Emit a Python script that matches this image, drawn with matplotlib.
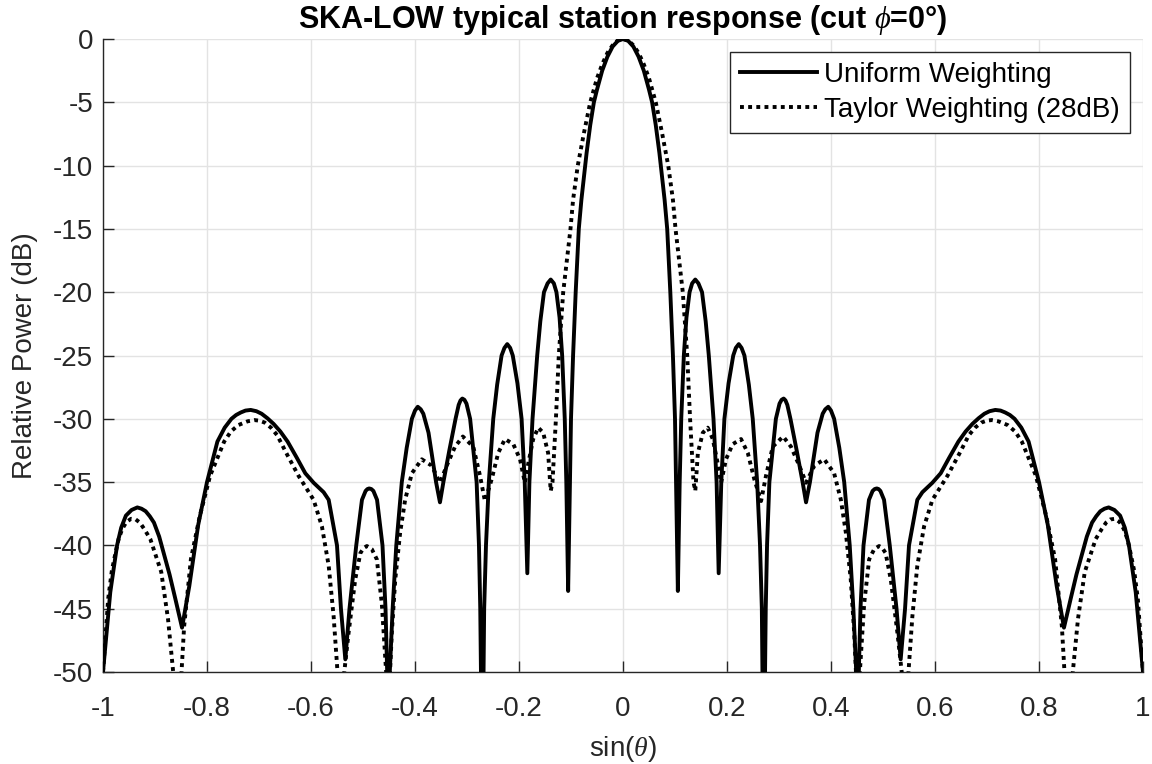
import numpy as np
import matplotlib
matplotlib.use("Agg")
import matplotlib.pyplot as plt

# ---------------- data ----------------
# (sin(theta), relative power dB) pairs; values below -50 dB fall outside the axes
uniform_left = [(-1.000, -50.0), (-0.986, -43.7), (-0.973, -40.0), (-0.965, -38.6), (-0.956, -37.65),
                (-0.945, -37.2), (-0.934, -37.0), (-0.926, -37.1), (-0.918, -37.3), (-0.910, -37.7),
                (-0.902, -38.2), (-0.892, -39.3), (-0.882, -40.8), (-0.872, -42.3), (-0.861, -44.2),
                (-0.848, -46.5), (-0.834, -43.2), (-0.817, -38.4), (-0.800, -35.0), (-0.780, -31.8),
                (-0.766, -30.7), (-0.753, -30.0), (-0.744, -29.7), (-0.735, -29.5), (-0.726, -29.35),
                (-0.716, -29.3), (-0.705, -29.4), (-0.695, -29.6), (-0.684, -29.95), (-0.672, -30.4),
                (-0.659, -31.0), (-0.645, -31.8), (-0.627, -33.1), (-0.611, -34.3), (-0.595, -35.05),
                (-0.5757, -35.8), (-0.566, -36.4), (-0.550, -40.0), (-0.5424, -45.0), (-0.534, -49.0),
                (-0.526, -45.0), (-0.513, -40.0), (-0.502, -36.4), (-0.495, -35.7), (-0.4915, -35.55),
                (-0.488, -35.5), (-0.484, -35.55), (-0.480, -35.7), (-0.473, -36.4), (-0.4625, -40.0),
                (-0.4567, -45.0), (-0.4535, -50.0), (-0.451, -60.0), (-0.4485, -50.0), (-0.443, -45.0),
                (-0.436, -40.0), (-0.4254, -35.0), (-0.416, -32.3), (-0.406, -30.0), (-0.400, -29.35),
                (-0.3947, -29.05), (-0.389, -29.25), (-0.384, -29.6), (-0.374, -31.1), (-0.3595, -35.0),
                (-0.352, -36.6), (-0.3454, -35.0), (-0.334, -32.5), (-0.322, -30.0), (-0.316, -28.9),
                (-0.3125, -28.55), (-0.309, -28.4), (-0.305, -28.5), (-0.301, -28.8), (-0.294, -30.0),
                (-0.2815, -35.0), (-0.277, -40.0), (-0.2745, -45.0), (-0.2705, -60.0), (-0.267, -45.0),
                (-0.2635, -40.0), (-0.258, -35.0), (-0.2495, -30.0), (-0.242, -27.3), (-0.2335, -25.0),
                (-0.228, -24.4), (-0.2226, -24.1), (-0.217, -24.4), (-0.212, -25.0), (-0.203, -27.2),
                (-0.195, -30.0), (-0.189, -35.0), (-0.184, -42.2), (-0.180, -35.0), (-0.174, -30.0),
                (-0.165, -25.0), (-0.159, -22.3), (-0.152, -20.0), (-0.145, -19.3), (-0.139, -19.0),
                (-0.133, -19.3), (-0.128, -20.0), (-0.122, -22.0), (-0.117, -25.0), (-0.112, -30.0),
                (-0.109, -35.0), (-0.1055, -43.6), (-0.102, -35.0), (-0.100, -30.0), (-0.096, -25.0),
                (-0.091, -20.0), (-0.085, -15.0), (-0.080, -12.7), (-0.076, -11.2), (-0.070, -9.0),
                (-0.063, -6.8), (-0.056, -5.0), (-0.050, -4.0), (-0.040, -2.5), (-0.030, -1.4),
                (-0.020, -0.6), (-0.010, -0.15)]
uniform_right = [(0.000, 0.0), (0.010, -0.15), (0.020, -0.6), (0.030, -1.4), (0.040, -2.5),
                 (0.050, -4.0), (0.056, -5.0), (0.063, -6.8), (0.070, -9.0), (0.076, -11.2),
                 (0.080, -12.7), (0.085, -15.0), (0.091, -20.0), (0.096, -25.0), (0.100, -30.0),
                 (0.102, -35.0), (0.1055, -43.6), (0.109, -35.0), (0.112, -30.0), (0.117, -25.0),
                 (0.122, -22.0), (0.128, -20.0), (0.133, -19.3), (0.139, -19.0), (0.145, -19.3),
                 (0.152, -20.0), (0.159, -22.3), (0.165, -25.0), (0.174, -30.0), (0.180, -35.0),
                 (0.184, -42.2), (0.189, -35.0), (0.195, -30.0), (0.203, -27.2), (0.212, -25.0),
                 (0.217, -24.4), (0.2226, -24.1), (0.228, -24.4), (0.2335, -25.0), (0.242, -27.3),
                 (0.2495, -30.0), (0.258, -35.0), (0.2635, -40.0), (0.267, -45.0), (0.2705, -60.0),
                 (0.2745, -45.0), (0.277, -40.0), (0.2815, -35.0), (0.294, -30.0), (0.301, -28.8),
                 (0.305, -28.5), (0.309, -28.4), (0.3125, -28.55), (0.316, -28.9), (0.322, -30.0),
                 (0.334, -32.5), (0.3454, -35.0), (0.352, -36.6), (0.3595, -35.0), (0.374, -31.1),
                 (0.384, -29.6), (0.389, -29.25), (0.3947, -29.05), (0.400, -29.35), (0.406, -30.0),
                 (0.416, -32.3), (0.4254, -35.0), (0.436, -40.0), (0.443, -45.0), (0.4485, -50.0),
                 (0.451, -60.0), (0.4535, -50.0), (0.4567, -45.0), (0.4625, -40.0), (0.473, -36.4),
                 (0.480, -35.7), (0.484, -35.55), (0.488, -35.5), (0.4915, -35.55), (0.495, -35.7),
                 (0.502, -36.4), (0.513, -40.0), (0.526, -45.0), (0.534, -49.0), (0.5424, -45.0),
                 (0.550, -40.0), (0.566, -36.4), (0.5757, -35.8), (0.595, -35.05), (0.611, -34.3),
                 (0.627, -33.1), (0.645, -31.8), (0.659, -31.0), (0.672, -30.4), (0.684, -29.95),
                 (0.695, -29.6), (0.705, -29.4), (0.716, -29.3), (0.726, -29.35), (0.735, -29.5),
                 (0.744, -29.7), (0.753, -30.0), (0.766, -30.7), (0.780, -31.8), (0.800, -35.0),
                 (0.817, -38.4), (0.834, -43.2), (0.848, -46.5), (0.861, -44.2), (0.872, -42.3),
                 (0.882, -40.8), (0.892, -39.3), (0.902, -38.2), (0.910, -37.7), (0.918, -37.3),
                 (0.926, -37.1), (0.934, -37.0), (0.945, -37.2), (0.956, -37.65), (0.965, -38.6),
                 (0.973, -40.0), (0.986, -43.7), (1.000, -50.0)]

taylor_left = [(-1.000, -50.0), (-0.990, -44.2), (-0.983, -42.0), (-0.976, -40.6), (-0.970, -39.5),
               (-0.963, -38.7), (-0.955, -38.15), (-0.946, -37.9), (-0.937, -37.95), (-0.929, -38.2),
               (-0.920, -38.75), (-0.909, -39.5), (-0.888, -42.1), (-0.875, -45.8), (-0.865, -50.0),
               (-0.857, -60.0), (-0.849, -50.0), (-0.844, -46.4), (-0.831, -41.1), (-0.814, -37.7),
               (-0.794, -34.5), (-0.767, -31.8), (-0.754, -31.0), (-0.740, -30.5), (-0.722, -30.2),
               (-0.709, -30.1), (-0.699, -30.15), (-0.689, -30.3), (-0.677, -30.7), (-0.665, -31.3),
               (-0.655, -32.1), (-0.645, -32.9), (-0.624, -34.5), (-0.595, -36.4), (-0.579, -38.5),
               (-0.566, -41.6), (-0.5565, -45.6), (-0.549, -50.0), (-0.5425, -60.0), (-0.536, -50.0),
               (-0.5277, -46.9), (-0.515, -42.7), (-0.505, -40.6), (-0.4985, -40.2), (-0.4925, -40.05),
               (-0.483, -40.3), (-0.4734, -41.1), (-0.4638, -44.6), (-0.4555, -50.0), (-0.452, -60.0),
               (-0.448, -50.0), (-0.4446, -46.9), (-0.438, -42.7), (-0.4286, -39.0), (-0.419, -36.4),
               (-0.406, -34.3), (-0.387, -33.2), (-0.368, -33.7), (-0.352, -35.05), (-0.339, -33.7),
               (-0.323, -32.2), (-0.308, -31.4), (-0.288, -32.2), (-0.275, -34.5), (-0.2655, -36.5),
               (-0.2527, -34.8), (-0.240, -32.7), (-0.227, -31.6), (-0.211, -32.0), (-0.198, -33.2),
               (-0.1887, -35.05), (-0.182, -33.5), (-0.1727, -31.6), (-0.163, -30.7), (-0.1535, -31.1),
               (-0.144, -32.7), (-0.139, -35.7), (-0.1356, -35.0), (-0.129, -30.0), (-0.1235, -25.0),
               (-0.115, -20.0), (-0.108, -17.5), (-0.101, -15.0), (-0.096, -12.7), (-0.087, -10.0),
               (-0.075, -7.4), (-0.063, -5.0), (-0.050, -3.1), (-0.040, -2.0), (-0.030, -1.1),
               (-0.020, -0.5), (-0.010, -0.1)]
taylor_right = [(0.000, 0.0), (0.010, -0.1), (0.020, -0.5), (0.030, -1.1), (0.040, -2.0),
                (0.050, -3.1), (0.063, -5.0), (0.075, -7.4), (0.087, -10.0), (0.096, -12.7),
                (0.101, -15.0), (0.108, -17.5), (0.115, -20.0), (0.1235, -25.0), (0.129, -30.0),
                (0.1356, -35.0), (0.139, -35.7), (0.144, -32.7), (0.1535, -31.1), (0.163, -30.7),
                (0.1727, -31.6), (0.182, -33.5), (0.1887, -35.05), (0.198, -33.2), (0.211, -32.0),
                (0.227, -31.6), (0.240, -32.7), (0.2527, -34.8), (0.2655, -36.5), (0.275, -34.5),
                (0.288, -32.2), (0.308, -31.4), (0.323, -32.2), (0.339, -33.7), (0.352, -35.05),
                (0.368, -33.7), (0.387, -33.2), (0.406, -34.3), (0.419, -36.4), (0.4286, -39.0),
                (0.438, -42.7), (0.4446, -46.9), (0.448, -50.0), (0.452, -60.0), (0.4555, -50.0),
                (0.4638, -44.6), (0.4734, -41.1), (0.483, -40.3), (0.4925, -40.05), (0.4985, -40.2),
                (0.505, -40.6), (0.515, -42.7), (0.5277, -46.9), (0.536, -50.0), (0.5425, -60.0),
                (0.549, -50.0), (0.5565, -45.6), (0.566, -41.6), (0.579, -38.5), (0.595, -36.4),
                (0.624, -34.5), (0.645, -32.9), (0.655, -32.1), (0.665, -31.3), (0.677, -30.7),
                (0.689, -30.3), (0.699, -30.15), (0.709, -30.1), (0.722, -30.2), (0.740, -30.5),
                (0.754, -31.0), (0.767, -31.8), (0.794, -34.5), (0.814, -37.7), (0.831, -41.1),
                (0.844, -46.4), (0.849, -50.0), (0.857, -60.0), (0.865, -50.0), (0.875, -45.8),
                (0.888, -42.1), (0.909, -39.5), (0.920, -38.75), (0.929, -38.2), (0.937, -37.95),
                (0.946, -37.9), (0.955, -38.15), (0.963, -38.7), (0.970, -39.5), (0.976, -40.6),
                (0.983, -42.0), (0.990, -44.2), (1.000, -50.0)]

series_labels = ["Uniform Weighting", "Taylor Weighting (28dB)"]
x_ticks = [-1.0, -0.8, -0.6, -0.4, -0.2, 0.0, 0.2, 0.4, 0.6, 0.8, 1.0]
x_tick_labels = ["-1", "-0.8", "-0.6", "-0.4", "-0.2", "0", "0.2", "0.4", "0.6", "0.8", "1"]
y_ticks = [-50, -45, -40, -35, -30, -25, -20, -15, -10, -5, 0]
y_tick_labels = ["-50", "-45", "-40", "-35", "-30", "-25", "-20", "-15", "-10", "-5", "0"]
title_text = r"SKA-LOW typical station response (cut $\phi$=0°)"
x_label = r"sin($\theta$)"
y_label = "Relative Power (dB)"

# ---------------- styling ----------------
plt.rcParams["font.family"] = ["Liberation Sans", "DejaVu Sans"]
plt.rcParams["axes.unicode_minus"] = False
plt.rcParams["mathtext.fontset"] = "custom"
plt.rcParams["mathtext.rm"] = "Liberation Sans"
plt.rcParams["mathtext.it"] = "Liberation Serif:italic"
plt.rcParams["mathtext.bf"] = "Liberation Sans:bold"

W, H = 1152, 764
fig = plt.figure(figsize=(W / 100, H / 100), dpi=100)
ax_left, ax_right, ax_top, ax_bottom = 103, 1143, 39, 672
ax = fig.add_axes([ax_left / W, 1 - ax_bottom / H, (ax_right - ax_left) / W, (ax_bottom - ax_top) / H])

uni = uniform_left + uniform_right
tay = taylor_left + taylor_right
u_uni = np.array([p[0] for p in uni])
db_uni = np.array([p[1] for p in uni])
u_tay = np.array([p[0] for p in tay])
db_tay = np.array([p[1] for p in tay])

ax.plot(u_uni, db_uni, color="black", lw=2.8, solid_joinstyle="round",
        label=series_labels[0], zorder=3)
ax.plot(u_tay, db_tay, color="black", lw=2.8, linestyle=(0, (1.0, 1.1)),
        dash_capstyle="butt", label=series_labels[1], zorder=3)

ax.set_xlim(-1, 1)
ax.set_ylim(-50, 0)
ax.set_xticks(x_ticks)
ax.set_xticklabels(x_tick_labels)
ax.set_yticks(y_ticks)
ax.set_yticklabels(y_tick_labels)

ax.grid(True, color="#e3e3e3", lw=1.0, zorder=0)
ax.set_axisbelow(True)
for s in ["top", "right"]:
    ax.spines[s].set_visible(False)
for s in ["left", "bottom"]:
    ax.spines[s].set_color("#262626")
    ax.spines[s].set_linewidth(1.0)
ax.tick_params(direction="in", length=8, width=1, colors="#262626", labelsize=20)
ax.tick_params(axis="x", pad=17)
ax.tick_params(axis="y", pad=7)

ax.set_title(title_text, fontsize=22, fontweight="bold", pad=8, color="black")
ax.set_xlabel(x_label, fontsize=20, color="#262626", labelpad=9)
ax.set_ylabel(y_label, fontsize=20, color="#262626", labelpad=11)

leg = ax.legend(loc="upper right", bbox_to_anchor=((1130 - ax_left) / (ax_right - ax_left),
                                                   (ax_bottom - 52) / (ax_bottom - ax_top)),
                borderaxespad=0, fontsize=20, frameon=True, fancybox=False,
                handlelength=2.8, handletextpad=0.25, labelspacing=0.33,
                borderpad=0.36)
leg.get_frame().set_edgecolor("#262626")
leg.get_frame().set_linewidth(1.0)
leg.get_frame().set_alpha(1.0)

fig.savefig("out.png", dpi=100)
